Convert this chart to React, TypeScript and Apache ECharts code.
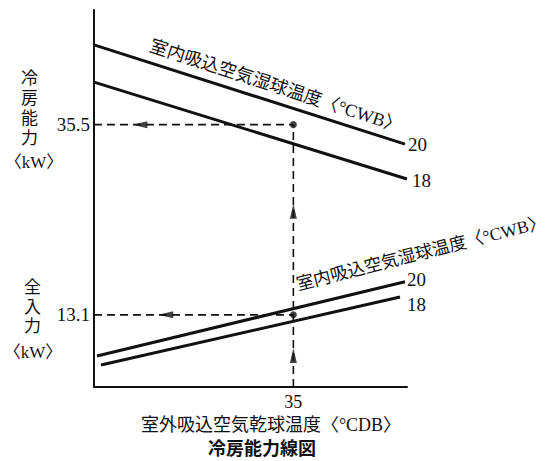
import React, { useEffect, useRef } from "react";
import * as echarts from "echarts";

// Outdoor dry-bulb temperature (°CDB) vs. capacity / input (kW)
const capacityWB20: [number, number][] = [[25.0, 44.9], [40.6, 33.2]];
const capacityWB18: [number, number][] = [[25.0, 40.5], [40.7, 29.1]];
const inputWB20: [number, number][] = [[25.15, 8.25], [40.6, 17.0]];
const inputWB18: [number, number][] = [[25.35, 7.2], [40.35, 15.2]];

const ratedOutdoorDB = 35;
const ratedCapacity = 35.5;
const ratedInput = 13.1;

const xTickValues = [35];
const yTickValues = [13.1, 35.5];
const wbLabels = ["20", "18"];

// arrowhead positions along the guide lines
const capacityArrowX = 27.3;
const inputArrowX = 28.6;
const verticalArrowY = [25.3, 8.3];

const X_MIN = 25;
const X_MAX = 40.7;
const Y_MIN = 4.6;
const Y_MAX = 49;

const SERIF = "'Liberation Serif', 'Noto Sans CJK JP', serif";
const INK = "#111";

export default function App() {
  const ref = useRef<HTMLDivElement>(null);

  useEffect(() => {
    if (!ref.current) return;
    const chart = echarts.init(ref.current, undefined, { renderer: "svg" });

    const curve = (name: string, data: [number, number][], label: string, offset: [number, number]) => ({
      name,
      type: "line",
      data,
      symbol: "none",
      lineStyle: { color: INK, width: 3 },
      endLabel: {
        show: true,
        formatter: label,
        color: INK,
        fontFamily: SERIF,
        fontSize: 19,
        distance: 3,
        offset,
      },
      z: 3,
    });

    const dashed = (data: [number, number][]) => ({
      type: "line",
      data,
      symbol: "none",
      lineStyle: { color: INK, width: 1.6, type: [8, 5] },
      z: 2,
    });

    const option: any = {
      animation: false,
      backgroundColor: "#fff",
      grid: { left: 94, right: 144, top: 10, bottom: 74 },
      title: {
        text: "冷房能力線図",
        left: 262,
        textAlign: "center",
        top: 437,
        padding: 0,
        textStyle: {
          fontFamily: "'Noto Sans CJK JP', sans-serif",
          fontWeight: "bold",
          fontSize: 18,
          lineHeight: 20,
          color: INK,
        },
      },
      xAxis: {
        type: "value",
        min: X_MIN,
        max: X_MAX,
        axisLine: { show: true, onZero: false, lineStyle: { color: INK, width: 2 } },
        axisTick: { show: false },
        splitLine: { show: false },
        axisLabel: {
          customValues: xTickValues,
          formatter: (v: number) => String(v),
          color: INK,
          fontFamily: SERIF,
          fontSize: 18,
          margin: 6,
        },
      },
      yAxis: {
        type: "value",
        min: Y_MIN,
        max: Y_MAX,
        axisLine: { show: true, onZero: false, lineStyle: { color: INK, width: 2 } },
        axisTick: { show: false },
        splitLine: { show: false },
        axisLabel: {
          customValues: yTickValues,
          formatter: (v: number) => v.toFixed(1),
          color: INK,
          fontFamily: SERIF,
          fontSize: 19,
          margin: 4,
        },
      },
      graphic: [
        {
          type: "text",
          left: 21,
          top: 68,
          style: { text: "冷\n房\n能\n力", fontSize: 17, lineHeight: 20, fill: INK, fontFamily: SERIF },
        },
        {
          type: "text",
          x: 34,
          y: 162,
          style: { text: "〈kW〉", align: "center", verticalAlign: "middle", fontSize: 17, fill: INK, fontFamily: SERIF },
        },
        {
          type: "text",
          left: 24,
          top: 278,
          style: { text: "全\n入\n力", fontSize: 17, lineHeight: 19.5, fill: INK, fontFamily: SERIF },
        },
        {
          type: "text",
          x: 33,
          y: 352,
          style: { text: "〈kW〉", align: "center", verticalAlign: "middle", fontSize: 17, fill: INK, fontFamily: SERIF },
        },
        {
          type: "text",
          x: 271,
          y: 425,
          style: {
            text: "室外吸込空気乾球温度〈°CDB〉",
            align: "center",
            verticalAlign: "middle",
            fontSize: 18,
            fill: INK,
            fontFamily: SERIF,
          },
        },
        {
          type: "text",
          x: 276,
          y: 86,
          rotation: (-18 * Math.PI) / 180,
          style: {
            text: "室内吸込空気湿球温度〈°CWB〉",
            align: "center",
            verticalAlign: "middle",
            fontSize: 18,
            fill: INK,
            fontFamily: SERIF,
          },
        },
        {
          type: "text",
          x: 421,
          y: 253,
          rotation: (14.3 * Math.PI) / 180,
          style: {
            text: "室内吸込空気湿球温度〈°CWB〉",
            align: "center",
            verticalAlign: "middle",
            fontSize: 17.5,
            fill: INK,
            fontFamily: SERIF,
          },
        },
      ],
      series: [
        curve("冷房能力 20°CWB", capacityWB20, wbLabels[0], [0, 0]),
        curve("冷房能力 18°CWB", capacityWB18, wbLabels[1], [2, 2]),
        curve("全入力 20°CWB", inputWB20, wbLabels[0], [-1, -2]),
        curve("全入力 18°CWB", inputWB18, wbLabels[1], [4, 8]),
        dashed([[X_MIN, ratedCapacity], [ratedOutdoorDB, ratedCapacity]]),
        dashed([[X_MIN, ratedInput], [ratedOutdoorDB, ratedInput]]),
        dashed([[ratedOutdoorDB, Y_MIN], [ratedOutdoorDB, ratedCapacity]]),
        {
          type: "scatter",
          symbol: "circle",
          symbolSize: 7,
          itemStyle: { color: INK },
          data: [[ratedOutdoorDB, ratedCapacity], [ratedOutdoorDB, ratedInput]],
          z: 4,
        },
        {
          type: "scatter",
          symbol: "triangle",
          symbolSize: [7, 15],
          symbolRotate: 90,
          itemStyle: { color: INK },
          data: [[capacityArrowX, ratedCapacity], [inputArrowX, ratedInput]],
          z: 4,
        },
        {
          type: "scatter",
          symbol: "triangle",
          symbolSize: [7, 15],
          itemStyle: { color: INK },
          data: verticalArrowY.map((y) => [ratedOutdoorDB, y]),
          z: 4,
        },
      ],
    };

    chart.setOption(option);
    return () => chart.dispose();
  }, []);

  return (
    <div
      ref={ref}
      style={{ position: "fixed", left: 0, top: 0, width: 551, height: 461, background: "#fff" }}
    />
  );
}
